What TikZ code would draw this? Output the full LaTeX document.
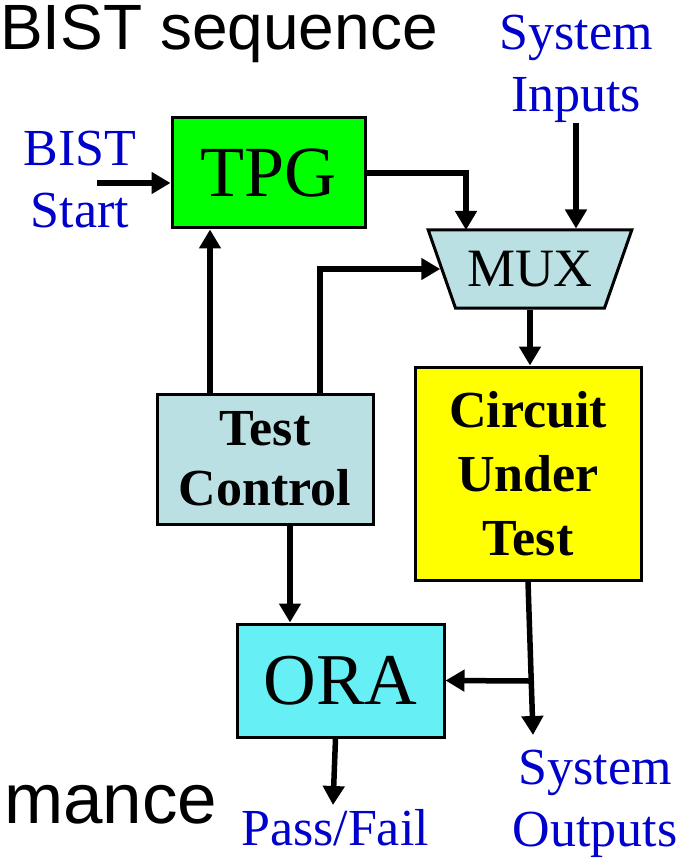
\documentclass[tikz,border=0pt]{standalone}
\usepackage{fontspec}
\setmainfont{Liberation Serif}
\setsansfont{Liberation Sans}
\usetikzlibrary{arrows.meta,shapes.geometric}

\definecolor{bistGreen}{HTML}{00FF00}
\definecolor{bistMux}{HTML}{BBE0E3}
\definecolor{bistYellow}{HTML}{FFFF00}
\definecolor{bistCyan}{HTML}{66F0F5}
\definecolor{bistLabel}{HTML}{0000CC}

\begin{document}
\begin{tikzpicture}[x=1pt,y=-1pt,
  box/.style={draw,line width=3pt,inner sep=0pt,align=center},
  lbl/.style={text=bistLabel,align=center,inner sep=0pt,font=\fontsize{52}{62}\selectfont},
  slide/.style={anchor=base west,inner sep=0pt,font=\sffamily\fontsize{64}{70}\selectfont},
  wire/.style={line width=5.5pt,-{Triangle[length=19pt,width=21pt]}}]
  \useasboundingbox (0,0) rectangle (698,858);

  \node[slide] (head) at (0,50) {BIST sequence};
  \node[slide,font=\sffamily\fontsize{71}{76}\selectfont] (tail) at (4,823) {mance};

  \node[box,fill=bistGreen,minimum width=193pt,minimum height=110pt,font=\fontsize{72}{80}\selectfont] (tpg) at (268.5,173) {TPG};
  \node[box,fill=bistMux,trapezium,trapezium angle=57.3,shape border rotate=180,trapezium stretches=true,minimum width=204pt,minimum height=78pt,font=\fontsize{54}{60}\selectfont] (mux) at (530,269) {MUX};
  \node[box,fill=bistMux,minimum width=216pt,minimum height=130pt,font=\bfseries\fontsize{52}{60}\selectfont] (ctl) at (265,459) {Test\\Control};
  \node[box,fill=bistYellow,minimum width=226pt,minimum height=213pt,font=\bfseries\fontsize{52}{64}\selectfont] (cut) at (528,473.5) {Circuit\\Under\\Test};
  \node[box,fill=bistCyan,minimum width=207pt,minimum height=113pt,font=\fontsize{73}{80}\selectfont] (ora) at (340.5,680.5) {ORA};

  \node[lbl,anchor=north] (bstart) at (80,131) {BIST\\Start};
  \node[lbl,anchor=north] (sysin) at (576,15) {System\\Inputs};
  \node[lbl,anchor=north] (sysout) at (595,750) {System\\Outputs};
  \node[lbl,anchor=base] (pf) at (335,845) {Pass/Fail};

  \coordinate (bsin) at (97,183);
  \coordinate (muxa) at (466,230);
  \coordinate (split) at (529,681);
  \coordinate (cutout) at (533,735);
  \coordinate (pfin) at (333,805);

  \draw[wire] (bsin) -- (bsin -| tpg.west);
  \draw[wire] (tpg.east) -| (muxa);
  \draw[wire] (sysin.south) -- (sysin.south |- mux.north);
  \draw[wire] ([xshift=-55pt]ctl.north) -- ([xshift=-55pt]ctl.north |- tpg.south);
  \draw[wire] ([xshift=55pt]ctl.north) |- (mux.west);
  \draw[wire] (mux.south) -- (mux.south |- cut.north);
  \draw[wire] ([xshift=25pt]ctl.south) -- ([xshift=25pt]ctl.south |- ora.north);
  \draw[wire] (cut.south) -- (cutout);
  \draw[wire] (split) -- (ora.east);
  \draw[wire] ([xshift=-5pt]ora.south) -- (pfin);
\end{tikzpicture}
\end{document}
